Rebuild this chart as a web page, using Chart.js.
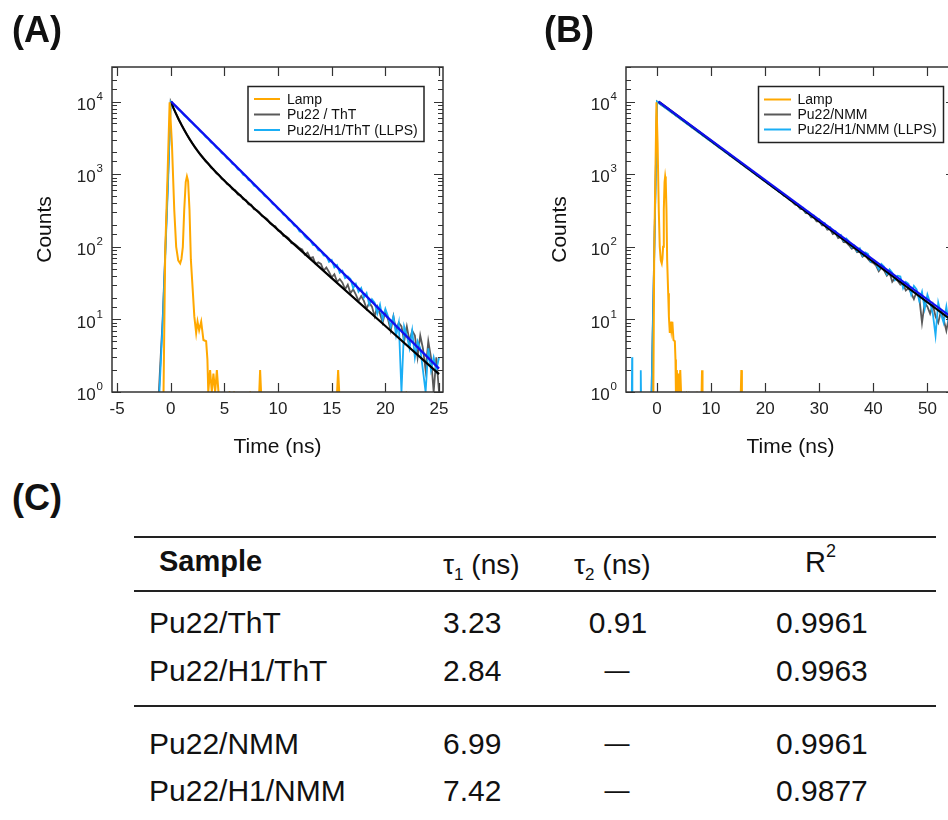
<!DOCTYPE html>
<html>
<head>
<meta charset="utf-8">
<script src="https://cdn.jsdelivr.net/npm/chart.js@4.4.0/dist/chart.umd.min.js"></script>
<style>
  body { margin: 0; background: #fff; }
  #page { position: relative; width: 948px; height: 820px; overflow: hidden; background: #fff;
          font-family: "Liberation Sans", Arial, sans-serif; color: #111; }
  canvas { position: absolute; top: 0; }
  .lbl { position: absolute; font-weight: bold; font-size: 36px; line-height: 36px; }
  .t { position: absolute; white-space: nowrap; }
  .rule { position: absolute; left: 134px; width: 802px; height: 2px; background: #222; }
</style>
</head>
<body>
<div id="page">
  <canvas id="chartA" width="474" height="470" style="left:0"></canvas>
  <canvas id="chartB" width="500" height="470" style="left:474px"></canvas>
  <div class="lbl" style="left:12px;top:12px">(A)</div>
  <div class="lbl" style="left:544px;top:12px">(B)</div>
  <div class="lbl" style="left:12px;top:480px">(C)</div>
  <div id="table"></div>
</div>
<script>
// --- 共通: 減衰曲線の時間軸 (ns)
const tA = Array.from({ length: 101 }, (_, i) => i * 0.25);   // 0 .. 25
const tB = Array.from({ length: 111 }, (_, i) => i * 0.5);    // 0 .. 55
const yDecades = [0, 1, 2, 3, 4];

// ランプ (両パネル共通)
const lampT = [-0.75, -0.67, -0.51, -0.28, -0.1, 0.11, 0.33, 0.51, 0.7, 0.88, 1.0, 1.13, 1.26, 1.4, 1.51, 1.62, 1.75, 1.88,
  2.07, 2.2, 2.37, 2.5, 2.65, 2.84, 3.05, 3.3, 3.42, 3.5, 3.67, 3.83, 3.98, 4.14, 4.3, 4.45, 4.5,
  5.4, 5.55, 5.6, 5.85, 5.95, 6.0, 7.35, 7.45, 7.5, 8.25, 8.33, 8.42, 8.5, 15.5, 15.6, 15.7, 15.8, 21.9, 22.0, 22.1];
const lampC = [null, 1, 90, 1150, 9800, 2700, 324, 100, 65, 59, 68, 100, 324, 780, 930, 800, 324, 66,
  23, 11, 6.5, 9.3, 7.1, 9.3, 5.2, 5, 2.8, 1, 2, 1, 1.8, 1, 2, 1, null,
  1, 1, null, 1, 1, null, 1, 1, null, 1, 2, 1, null, 1, 2, 1, null, 1, 1, null];

// (A) Pu22 / ThT
const grayA_riseT = [-1.1, -1.0, -0.75, -0.5, -0.25];
const grayA_riseC = [1, 2, 10, 90, 900];
const grayA = [
  10000, 8150, 6850, 5640, 4830, 4060, 3550, 3030, 2700, 2340, 2120, 1860,
  1710, 1500, 1400, 1235, 1165, 1030, 980, 865, 830, 732, 706, 620,
  603, 528, 516, 452, 442, 385, 381, 330,
  322, 300, 266, 255, 240, 211, 198, 192, 168, 163, 141, 139,
  131, 112, 111, 104,
  96, 92, 78, 83, 70, 72, 58, 61,
  58, 47, 52, 45, 38, 42, 33, 36,
  32, 26, 30, 23, 26, 22, 18, 21,
  18, 14, 17, 15, 11, 15, 12, 9,
  13, 10, 7, 11, 7, 9, 8, 5,
  8, 5, 7, 6, 3, 6, 4, 2,
  5, 3, 1, 3, 1];
// (A) Pu22/H1/ThT (LLPS)
const blueA_riseT = [-1.05, -0.75, -0.5, -0.25];
const blueA_riseC = [1, 9, 80, 720];
const blueA = [
  10000, 9150, 8480, 7700, 7160, 6490, 6050, 5480, 5120, 4620, 4310, 3890,
  3650, 3280, 3080, 2760, 2600, 2330, 2190, 1960, 1860, 1650, 1570, 1390,
  1330, 1170, 1120, 985, 950, 830, 800, 700,
  668, 601, 565, 505, 478, 441, 392, 370, 330, 314, 279, 266,
  233, 224, 196, 190, 163, 160, 139, 128, 124, 106, 105, 90,
  88, 76, 75, 62, 66, 52, 56, 44, 47, 37, 39, 36,
  27, 31, 24, 27, 20, 23, 16, 19, 17, 12, 16, 10,
  14, 11, 8, 11, 6, 9, 1, 8, 6, 4, 7, 3,
  5, 4, 2, 1, 4, 2, 3, 2, 3];
// (A) フィット
const fitBlackA_T = [0.05, 0.25, 0.5, 0.75, 1, 1.5, 2, 2.5, 3, 4, 5, 6, 8, 10, 15, 20, 25];
const fitBlackA_C = [10000, 8200, 6790, 5680, 4800, 3520, 2680, 2100, 1690, 1150, 815, 590, 317, 171, 37, 8.1, 1.76];
const fitBlueA_T = [0.05, 25];
const fitBlueA_C = [10000, 2.1];

// (B) Pu22/NMM
const grayB_riseT = [-1.0, -0.8, -0.5, -0.25];
const grayB_riseC = [1, 7, 90, 900];
const grayB = [
  10000, 9370, 8800, 8265, 7755, 7280, 6835, 6415, 6020, 5650,
  5300, 4980, 4670, 4390, 4115, 3868, 3625, 3410, 3195, 3005,
  2815, 2645, 2478, 2332, 2185, 2055, 1925, 1812, 1698, 1595,
  1495, 1400, 1320, 1235, 1160, 1090, 1025, 958, 902, 845,
  795, 745, 700, 655, 618, 576, 545, 505, 481, 446,
  420, 384, 372, 332, 330, 292, 290, 255, 256, 224,
  226, 198, 199, 172, 176, 150, 155, 132, 137, 116,
  115, 105, 94, 97, 84, 86, 73, 77, 68, 62,
  60, 55, 46, 52, 47, 40, 44, 33, 37, 34,
  30, 31, 25, 27, 23, 19, 24, 20, 9, 17,
  15, 12, 16, 11, 9, 13, 10, 7, 11, 9,
  8];
// (B) Pu22/H1/NMM (LLPS)
const blueB_riseT = [-4.65, -4.6, -4.55, -4.5, -3.05, -3.0, -2.95, -2.9, -1.0, -0.5, -0.25];
const blueB_riseC = [1, 3, 1, null, 1, 2, 1, null, 1, 80, 720];
const blueB = [
  10000, 9350, 8870, 8240, 7820, 7260, 6890, 6400, 6080, 5630,
  5360, 4960, 4730, 4370, 4170, 3850, 3680, 3390, 3250, 2990,
  2860, 2630, 2530, 2310, 2230, 2040, 1960, 1800, 1730, 1590,
  1530, 1400, 1350, 1230, 1190, 1085, 1045, 955, 925, 840,
  815, 740, 720, 650, 635, 575, 560, 505, 495, 445,
  440, 392, 390, 341, 345, 300, 305, 262, 270, 236,
  240, 204, 212, 178, 186, 159, 164, 140, 146, 122,
  130, 118, 99, 104, 87, 95, 76, 84, 80, 62,
  66, 58, 49, 58, 53, 42, 49, 44, 35, 40,
  39, 27, 33, 31, 22, 29, 26, 18, 24, 14,
  22, 17, 12, 6, 17, 12, 9, 15, 8, 12,
  9];
// (B) フィット
const fitBlackB_T = [0.3, 55];
const fitBlackB_C = [10000, 9.1];
const fitBlueB_T = [0.3, 55];
const fitBlueB_C = [10000, 10.0];

// (C) 表
const tblSamples = ['Pu22/ThT', 'Pu22/H1/ThT', 'Pu22/NMM', 'Pu22/H1/NMM'];
const tblTau1 = ['3.23', '2.84', '6.99', '7.42'];
const tblTau2 = ['0.91', '\u2014', '\u2014', '\u2014'];
const tblR2 = ['0.9961', '0.9963', '0.9961', '0.9877'];

// ---------------------------------------------------------------
const C_LAMP = '#FFA800', C_GRAY = '#595959', C_LBLUE = '#1AAEF5', C_BLUE = '#1010F0', C_BLACK = '#000000';
const FONT = '"Liberation Sans", Arial, sans-serif';
Chart.defaults.font.family = FONT;
Chart.defaults.color = '#222';

const pts = (ts, cs) => ts.map((t, i) => ({ x: t, y: cs[i] }));

function line(label, data, color, width) {
  return { label, data, borderColor: color, backgroundColor: color, borderWidth: width,
           pointRadius: 0, tension: 0, spanGaps: false, fill: false };
}

// 内向き目盛り + 枠 + 10^n ラベル
const frameTicks = {
  id: 'frameTicks',
  afterDatasetsDraw(chart) {
    const { ctx, chartArea: a, scales: { x, y } } = chart;
    ctx.save();
    ctx.strokeStyle = '#333';
    ctx.lineWidth = 1.2;
    ctx.beginPath();
    x.ticks.forEach(t => {
      const px = Math.round(x.getPixelForValue(t.value)) + 0.5;
      ctx.moveTo(px, a.bottom); ctx.lineTo(px, a.bottom - 9);
      ctx.moveTo(px, a.top); ctx.lineTo(px, a.top + 9);
    });
    y.ticks.forEach(t => {
      const lg = Math.log10(t.value);
      const len = Math.abs(lg - Math.round(lg)) < 1e-6 ? 9 : 5;
      const py = Math.round(y.getPixelForValue(t.value)) + 0.5;
      ctx.moveTo(a.left, py); ctx.lineTo(a.left + len, py);
      ctx.moveTo(a.right, py); ctx.lineTo(a.right - len, py);
    });
    ctx.stroke();
    ctx.lineWidth = 1.5;
    ctx.strokeRect(a.left, a.top, a.right - a.left, a.bottom - a.top);

    ctx.fillStyle = '#222';
    ctx.textAlign = 'right';
    ctx.textBaseline = 'middle';
    yDecades.forEach(p => {
      const py = y.getPixelForValue(Math.pow(10, p));
      ctx.font = '11.5px ' + FONT;
      ctx.fillText(String(p), a.left - 9, py - 5);
      const ew = ctx.measureText(String(p)).width;
      ctx.font = '17px ' + FONT;
      ctx.fillText('10', a.left - 10 - ew, py + 3.5);
    });
    ctx.restore();
  }
};

// 枠付き凡例
const boxLegend = {
  id: 'boxLegend',
  afterDraw(chart, args, o) {
    const { ctx } = chart;
    ctx.save();
    ctx.fillStyle = '#fff';
    ctx.fillRect(o.x, o.y, o.w, o.h);
    ctx.strokeStyle = '#222';
    ctx.lineWidth = 1.5;
    ctx.strokeRect(o.x, o.y, o.w, o.h);
    ctx.font = '14px ' + FONT;
    ctx.textAlign = 'left';
    ctx.textBaseline = 'middle';
    o.items.forEach((name, i) => {
      const ds = chart.data.datasets.find(d => d.label === name);
      const yy = o.rows[i];
      ctx.strokeStyle = ds.borderColor;
      ctx.lineWidth = 2;
      ctx.beginPath();
      ctx.moveTo(o.lx0, yy); ctx.lineTo(o.lx1, yy);
      ctx.stroke();
      ctx.fillStyle = '#111';
      ctx.fillText(name, o.tx, yy + 1);
    });
    ctx.restore();
  }
};

function makeChart(id, cfg) {
  return new Chart(document.getElementById(id), {
    type: 'line',
    data: { datasets: cfg.datasets },
    options: {
      responsive: false,
      animation: false,
      devicePixelRatio: 1,
      layout: { padding: cfg.padding },
      plugins: {
        legend: { display: false },
        tooltip: { enabled: false },
        boxLegend: cfg.legend
      },
      scales: {
        x: {
          type: 'linear', min: cfg.xmin, max: cfg.xmax,
          grid: { display: false, drawTicks: false, tickLength: 0 },
          border: { display: false },
          ticks: { stepSize: cfg.step, includeBounds: false, autoSkip: false, maxRotation: 0,
                   padding: 7, font: { size: 17 }, color: '#222' },
          title: { display: true, text: 'Time (ns)', font: { size: 21 }, color: '#111',
                   padding: { top: 0, bottom: 2.4 } },
          afterFit(s) { s.height = 70; }
        },
        y: {
          type: 'logarithmic', min: 1, max: 30000,
          grid: { display: false, drawTicks: false, tickLength: 0 },
          border: { display: false },
          ticks: { display: false },
          title: { display: true, text: 'Counts', font: { size: 21 }, color: '#111',
                   padding: { top: 2.4, bottom: 0 } },
          afterFit(s) { s.width = cfg.yWidth; }
        }
      }
    },
    plugins: [frameTicks, boxLegend]
  });
}

makeChart('chartA', {
  xmin: -5.47, xmax: 25.37, step: 5, yWidth: 82,
  padding: { left: 30, right: 31, top: 67, bottom: 8 },
  legend: { x: 248, y: 86.5, w: 176, h: 55, lx0: 254, lx1: 280, tx: 287,
            rows: [99, 114.5, 130], items: ['Lamp', 'Pu22 / ThT', 'Pu22/H1/ThT (LLPS)'] },
  datasets: [
    line('Lamp', pts(lampT, lampC), C_LAMP, 2),
    line('fit H1/ThT', pts(fitBlueA_T, fitBlueA_C), C_BLUE, 2.2),
    line('fit ThT', pts(fitBlackA_T, fitBlackA_C), C_BLACK, 2.2),
    line('Pu22/H1/ThT (LLPS)', pts(blueA_riseT, blueA_riseC).concat(pts(tA, blueA)), C_LBLUE, 1.8),
    line('Pu22 / ThT', pts(grayA_riseT, grayA_riseC).concat(pts(tA, grayA)), C_GRAY, 1.8)
  ]
});

makeChart('chartB', {
  xmin: -5.73, xmax: 55.1, step: 10, yWidth: 81,
  padding: { left: 71, right: 19, top: 67, bottom: 8 },
  legend: { x: 284.5, y: 86.5, w: 185, h: 56, lx0: 290, lx1: 317, tx: 323.5,
            rows: [99.5, 114.5, 129.5], items: ['Lamp', 'Pu22/NMM', 'Pu22/H1/NMM (LLPS)'] },
  datasets: [
    line('Lamp', pts(lampT, lampC), C_LAMP, 2),
    line('fit H1/NMM', pts(fitBlueB_T, fitBlueB_C), C_BLUE, 2.2),
    line('fit NMM', pts(fitBlackB_T, fitBlackB_C), C_BLACK, 2.2),
    line('Pu22/H1/NMM (LLPS)', pts(blueB_riseT, blueB_riseC).concat(pts(tB, blueB)), C_LBLUE, 1.8),
    line('Pu22/NMM', pts(grayB_riseT, grayB_riseC).concat(pts(tB, grayB)), C_GRAY, 1.8)
  ]
});

// --- (C) 表
const tbl = document.getElementById('table');
function put(html, x, baseline, size, extra) {
  const d = document.createElement('div');
  d.className = 't';
  d.style.fontSize = size + 'px';
  d.style.lineHeight = size + 'px';
  d.style.left = x + 'px';
  d.style.top = (baseline - 0.8465 * size) + 'px';
  if (extra) Object.assign(d.style, extra);
  d.innerHTML = html;
  tbl.appendChild(d);
}
function rule(y) {
  const r = document.createElement('div');
  r.className = 'rule';
  r.style.top = (y - 1) + 'px';
  tbl.appendChild(r);
}
rule(537); rule(591); rule(706);

const sub = s => '<span style="font-size:17px;position:relative;top:6px">' + s + '</span>';
put('Sample', 159, 572, 29, { fontWeight: 'bold' });
put('\u03c4' + sub('1') + ' (ns)', 443, 575, 28);
put('\u03c4' + sub('2') + ' (ns)', 574, 575, 28);
put('R<span style="font-size:18px;position:relative;top:-15px">2</span>', 805, 573, 29);

const rowBase = [633, 681, 754, 801];
tblSamples.forEach((s, i) => {
  const b = rowBase[i];
  put(s, 149, b, 30);
  put(tblTau1[i], 443, b, 30);
  if (tblTau2[i] === '\u2014') put(tblTau2[i], 617, b - 2, 25, { transform: 'translateX(-50%)' });
  else put(tblTau2[i], 618, b, 30, { transform: 'translateX(-50%)' });
  put(tblR2[i], 776, b, 30);
});
</script>
</body>
</html>
